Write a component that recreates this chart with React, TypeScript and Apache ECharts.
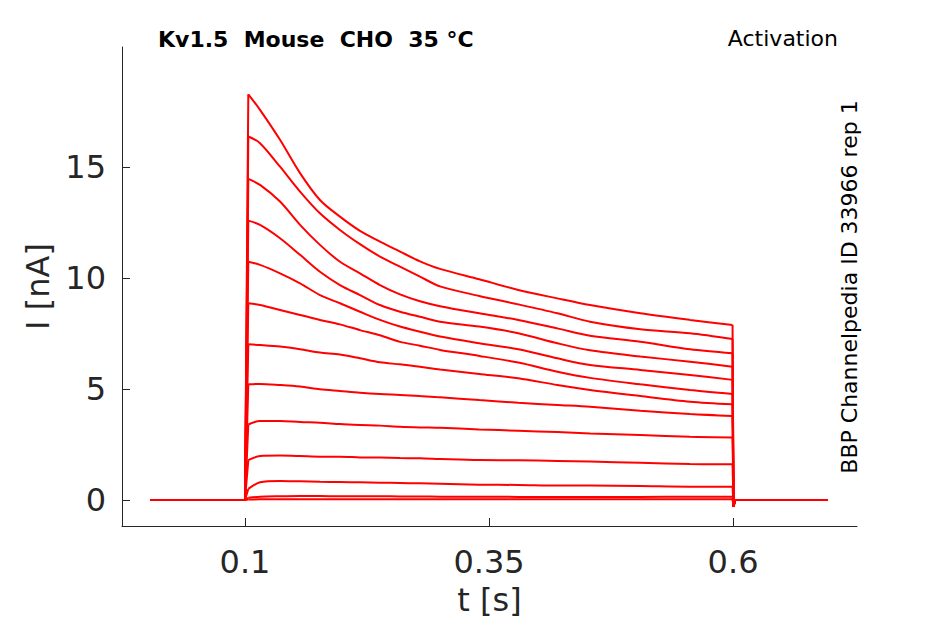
import { useEffect, useRef } from "react";
import * as echarts from "echarts";

// sample times (s) during the voltage step, shared by every sweep
const PULSE_TIMES = [
  0.1034, 0.1154, 0.1359, 0.1564, 0.1768, 0.1973, 0.2178, 0.2383, 0.2588,
  0.2793, 0.2998, 0.34, 0.38, 0.42, 0.4535, 0.505, 0.556, 0.5995,
];

// holding level before the step and the tail after it
const PRE_TIMES = [0.003, 0.1];
const PRE_VALUES = [0, 0];
const POST_TIMES = [0.6005, 0.602, 0.697];
const POST_VALUES = [-0.3, 0, 0];

// current (nA) of each sweep, read at PULSE_TIMES
const SWEEP_1 = [18.27, 17.57, 16.22, 14.72, 13.51, 12.76, 12.12, 11.64, 11.19, 10.75, 10.41, 9.94, 9.46, 9.08, 8.78, 8.41, 8.11, 7.88];
const SWEEP_2 = [16.37, 16.07, 15.01, 13.89, 12.91, 12.16, 11.52, 10.96, 10.51, 10.06, 9.62, 9.19, 8.81, 8.41, 8.03, 7.69, 7.51, 7.25];
const SWEEP_3 = [14.46, 14.19, 13.44, 12.39, 11.49, 10.73, 10.21, 9.68, 9.26, 8.95, 8.73, 8.41, 8.11, 7.73, 7.4, 7.13, 6.79, 6.61];
const SWEEP_4 = [12.58, 12.39, 11.79, 11.04, 10.28, 9.68, 9.23, 8.78, 8.48, 8.25, 8.03, 7.81, 7.51, 7.06, 6.74, 6.46, 6.23, 6.0];
const SWEEP_5 = [10.73, 10.59, 10.21, 9.76, 9.23, 8.86, 8.48, 8.11, 7.81, 7.58, 7.36, 7.06, 6.79, 6.38, 6.08, 5.86, 5.63, 5.41];
const SWEEP_6 = [8.86, 8.78, 8.56, 8.33, 8.11, 7.91, 7.65, 7.42, 7.12, 6.95, 6.76, 6.49, 6.19, 5.78, 5.5, 5.21, 4.95, 4.77];
const SWEEP_7 = [7.01, 6.98, 6.91, 6.79, 6.64, 6.55, 6.38, 6.2, 6.11, 6.0, 5.88, 5.68, 5.48, 5.18, 4.95, 4.68, 4.43, 4.31];
const SWEEP_8 = [5.21, 5.23, 5.18, 5.11, 4.99, 4.91, 4.83, 4.77, 4.73, 4.68, 4.63, 4.5, 4.38, 4.28, 4.2, 4.02, 3.87, 3.78];
const SWEEP_9 = [3.4, 3.56, 3.56, 3.51, 3.48, 3.42, 3.38, 3.35, 3.3, 3.27, 3.25, 3.18, 3.12, 3.06, 3.0, 2.93, 2.85, 2.82];
const SWEEP_10 = [1.8, 1.98, 2.0, 1.98, 1.95, 1.95, 1.92, 1.91, 1.89, 1.88, 1.85, 1.8, 1.79, 1.76, 1.73, 1.68, 1.62, 1.61];
const SWEEP_11 = [0.5, 0.8, 0.86, 0.84, 0.82, 0.81, 0.8, 0.78, 0.77, 0.75, 0.73, 0.69, 0.68, 0.65, 0.65, 0.63, 0.6, 0.6];
const SWEEP_12 = [0.1, 0.15, 0.17, 0.18, 0.18, 0.17, 0.17, 0.17, 0.16, 0.16, 0.15, 0.15, 0.14, 0.14, 0.14, 0.14, 0.15, 0.15];
const SWEEP_13 = [0.02, 0.03, 0.03, 0.04, 0.04, 0.03, 0.03, 0.03, 0.03, 0.03, 0.03, 0.03, 0.03, 0.03, 0.03, 0.03, 0.03, 0.03];

const SWEEPS = [
  SWEEP_1, SWEEP_2, SWEEP_3, SWEEP_4, SWEEP_5, SWEEP_6, SWEEP_7,
  SWEEP_8, SWEEP_9, SWEEP_10, SWEEP_11, SWEEP_12, SWEEP_13,
];

const X_TICKS = [0.1, 0.35, 0.6];
const Y_TICKS = [0, 5, 10, 15];

const FONT = "DejaVu Sans";
const AXIS_COLOR = "#262626";
const TRACE_COLOR = "#ff0000";

const lineStyle = { color: TRACE_COLOR, width: 2 };

// each sweep: sharp step edges + smoothed current during the step
const buildSeries = (values: number[], i: number): any[] => {
  const last = values.length - 1;
  return [
    {
      name: `sweep ${i + 1} on`,
      type: "line",
      data: [
        ...PRE_TIMES.map((t, k) => [t, PRE_VALUES[k]]),
        [PULSE_TIMES[0], values[0]],
      ],
      showSymbol: false,
      symbol: "none",
      lineStyle,
    },
    {
      name: `sweep ${i + 1}`,
      type: "line",
      data: PULSE_TIMES.map((t, k) => [t, values[k]]),
      smooth: 0.3,
      showSymbol: false,
      symbol: "none",
      lineStyle,
    },
    {
      name: `sweep ${i + 1} off`,
      type: "line",
      data: [
        [PULSE_TIMES[last], values[last]],
        ...POST_TIMES.map((t, k) => [t, POST_VALUES[k]]),
      ],
      showSymbol: false,
      symbol: "none",
      lineStyle,
    },
  ];
};

export default function App() {
  const chartRef = useRef<HTMLDivElement>(null);

  useEffect(() => {
    document.body.style.margin = "0";
    if (!chartRef.current) return;
    const chart = echarts.init(chartRef.current, undefined, { renderer: "svg" });

    const options: echarts.EChartsOption = {
      animation: false,
      backgroundColor: "#ffffff",
      grid: { left: 122, right: 88, top: 47, bottom: 98 },
      xAxis: {
        type: "value",
        min: -0.026,
        max: 0.727,
        name: "t [s]",
        nameLocation: "middle",
        nameGap: 58,
        nameTextStyle: { color: AXIS_COLOR, fontFamily: FONT, fontSize: 32 },
        axisLine: { show: true, onZero: false, lineStyle: { color: AXIS_COLOR, width: 1 } },
        axisTick: {
          show: true,
          inside: true,
          length: 8,
          customValues: X_TICKS,
          lineStyle: { color: AXIS_COLOR },
        },
        axisLabel: {
          customValues: X_TICKS,
          color: AXIS_COLOR,
          fontFamily: FONT,
          fontSize: 32,
          margin: 20,
        },
        splitLine: { show: false },
      },
      yAxis: {
        type: "value",
        min: -1.17,
        max: 20.4,
        name: "I [nA]",
        nameLocation: "middle",
        nameGap: 68,
        nameRotate: 90,
        nameTextStyle: { color: AXIS_COLOR, fontFamily: FONT, fontSize: 32 },
        axisLine: { show: true, onZero: false, lineStyle: { color: AXIS_COLOR, width: 1 } },
        axisTick: {
          show: true,
          inside: true,
          length: 8,
          customValues: Y_TICKS,
          lineStyle: { color: AXIS_COLOR },
        },
        axisLabel: {
          customValues: Y_TICKS,
          color: AXIS_COLOR,
          fontFamily: FONT,
          fontSize: 32,
          margin: 16,
        },
        splitLine: { show: false },
      },
      series: SWEEPS.flatMap((values, i) => buildSeries(values, i)),
      graphic: [
        {
          type: "text",
          left: 158,
          top: 28,
          style: {
            text: "Kv1.5  Mouse  CHO  35 °C",
            fill: "#000000",
            font: `bold 22px "${FONT}"`,
          },
        },
        {
          type: "text",
          right: 107,
          top: 27,
          style: {
            text: "Activation",
            fill: "#000000",
            font: `22px "${FONT}"`,
          },
        },
        {
          type: "text",
          x: 849,
          y: 287,
          rotation: Math.PI / 2,
          style: {
            text: "BBP Channelpedia ID 33966 rep 1",
            fill: "#000000",
            font: `22px "${FONT}"`,
            align: "center",
            verticalAlign: "middle",
          },
        },
      ],
    };

    chart.setOption(options);
    return () => chart.dispose();
  }, []);

  return <div ref={chartRef} style={{ width: "945px", height: "624px" }} />;
}
